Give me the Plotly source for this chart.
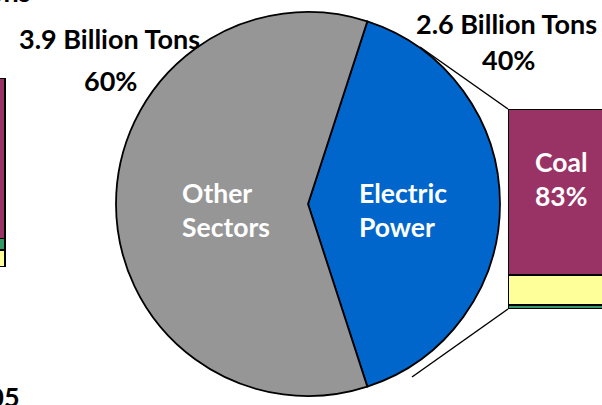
import plotly.graph_objects as go

W, H = 602, 405

# ---- data ----
pie_labels = ["Electric Power", "Other Sectors"]
pie_label_lines = [["Electric", "Power"], ["Other", "Sectors"]]
pie_values = [40, 60]
pie_tons = ["2.6", "3.9"]
pie_colors = ["#0066CC", "#969696"]

right_segments = ["Petroleum", "Natural Gas", "Coal"]
right_values = [2, 15, 83]
right_colors = ["#339966", "#FFFF99", "#993366"]

left_segments = ["Natural Gas", "Petroleum", "Coal"]
left_values = [9, 6, 85]
left_colors = ["#FFFF99", "#339966", "#993366"]

FONT = "Lato"


def px(x):
    return x / W


def py(y):
    return 1 - y / H


fig = go.Figure()

# pie
cx, cy, r = 308, 204, 192
fig.add_trace(go.Pie(
    labels=pie_labels, values=pie_values, sort=False, direction="clockwise",
    rotation=18, textinfo="none", hoverinfo="label+percent",
    marker=dict(colors=pie_colors, line=dict(color="black", width=1.8)),
    domain=dict(x=[px(cx - r), px(cx + r)], y=[py(cy + r), py(cy - r)]),
    showlegend=False,
))

# right stacked bar (electric power breakdown)
for name, v, c in zip(right_segments, right_values, right_colors):
    fig.add_trace(go.Bar(x=["Electric Power"], y=[v], name=name, width=1,
                         marker=dict(color=c, line=dict(color="black", width=1.5)),
                         xaxis="x", yaxis="y", showlegend=False))

# left stacked bar (cut off at the edge)
for name, v, c in zip(left_segments, left_values, left_colors):
    fig.add_trace(go.Bar(x=["2005"], y=[v], name=name, width=1,
                         marker=dict(color=c, line=dict(color="black", width=1.5)),
                         xaxis="x2", yaxis="y2", showlegend=False))

annotations = []
bold = dict(family=FONT, weight=700)


def note(x, y, text, size, color, xanchor="center", align="center"):
    annotations.append(dict(x=px(x), y=py(y), xref="paper", yref="paper", text=text,
                            showarrow=False, xanchor=xanchor, yanchor="middle", align=align,
                            font=dict(size=size, color=color, **bold)))


# slice labels (white, left aligned)
note(180, 209.5, "<br>".join(pie_label_lines[1]), 26.5, "white", "left", "left")
note(357, 209.5, "<br>".join(pie_label_lines[0]), 26.5, "white", "left", "left")
# tons labels
note(109, 38, f"{pie_tons[1]} Billion Tons", 27, "black")
note(110, 81, f"{pie_values[1]}%", 27, "black")
note(506, 23, f"{pie_tons[0]} Billion Tons", 27, "black")
note(508, 59, f"{pie_values[0]}%", 27, "black")
# coal label
note(533, 179, f"{right_segments[2]}<br>{right_values[2]}%", 26.5, "white", "left", "left")
# cut-off texts on the left edge
note(33, -9, "Tons", 27, "black", "right")
note(22, 396, "2005", 27, "black", "right")

shapes = [
    dict(type="line", xref="paper", yref="paper", x0=px(420), y0=py(47), x1=px(508), y1=py(109),
         line=dict(color="black", width=1.5), layer="below"),
    dict(type="line", xref="paper", yref="paper", x0=px(412), y0=py(377), x1=px(508), y1=py(309),
         line=dict(color="black", width=1.5), layer="below"),
]

axis_off = dict(showgrid=False, zeroline=False, showticklabels=False, showline=False, ticks="")
L2 = 2.0
a2 = 0.5 - L2 * 5 / (0.1 * W)
fig.update_layout(
    width=W, height=H, margin=dict(l=0, r=0, t=0, b=0),
    paper_bgcolor="white", plot_bgcolor="rgba(0,0,0,0)",
    barmode="stack",
    xaxis=dict(domain=[px(508), 1], range=[-0.5, 0.3], type="category", **axis_off),
    yaxis=dict(domain=[py(309), py(109)], range=[0, 100], **axis_off),
    xaxis2=dict(domain=[0, 0.1], range=[a2, a2 + L2], type="category", anchor="y2", **axis_off),
    yaxis2=dict(domain=[py(267), py(78)], range=[0, 100], anchor="x2", **axis_off),
    annotations=annotations, shapes=shapes,
)

fig.write_html("out.html")
